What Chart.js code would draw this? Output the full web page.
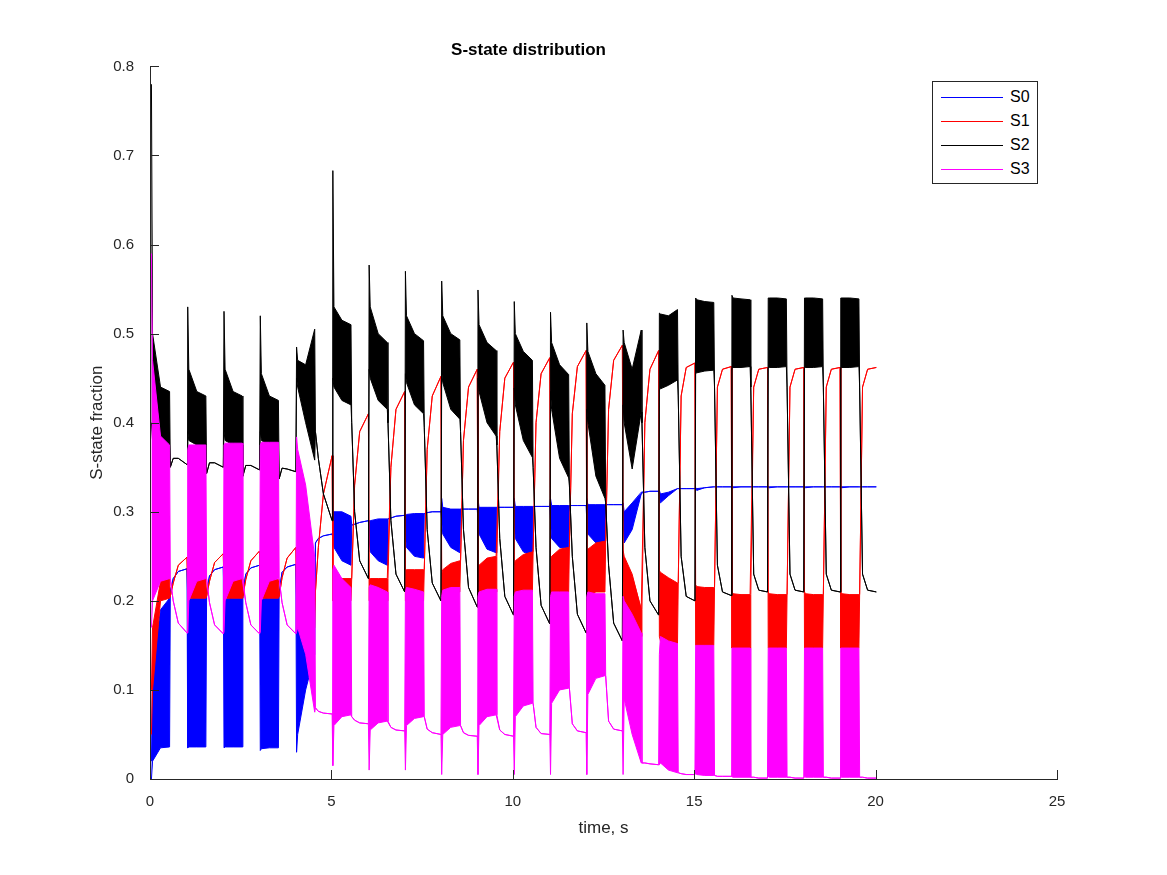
<!DOCTYPE html>
<html>
<head>
<meta charset="utf-8">
<script src="https://cdn.jsdelivr.net/npm/chart.js@4.4.1/dist/chart.umd.min.js"></script>
<style>
  html, body { margin: 0; padding: 0; background: #fff; }
  #wrap { position: relative; width: 1167px; height: 875px; }
  #legend {
    position: absolute; left: 932px; top: 81px; width: 106px; height: 103px;
    border: 1px solid #262626; background: #fff; box-sizing: border-box;
    font: 16px "Liberation Sans", Arial, sans-serif; color: #000;
  }
  #legend .row { position: absolute; left: 8px; height: 20px; line-height: 20px; }
  #legend .row i { display: inline-block; width: 62px; height: 0; border-top: 1px solid; vertical-align: middle; margin-right: 7px; }
</style>
</head>
<body>
<div id="wrap">
  <canvas id="c"></canvas>
  <div id="legend">
    <div class="row" style="top:5px"><i style="border-color:#0000ff"></i>S0</div>
    <div class="row" style="top:29px"><i style="border-color:#ff0000"></i>S1</div>
    <div class="row" style="top:53px"><i style="border-color:#000000"></i>S2</div>
    <div class="row" style="top:77px"><i style="border-color:#ff00ff"></i>S3</div>
  </div>
</div>
<script>
// Flash train: 20 periods of 1 s; each period = oscillating band (light) + relaxation (dark).
// Within a band the trace oscillates too fast to resolve, so it is kept as top/bottom envelopes.
const seriesNames = ["S0", "S1", "S2", "S3"];
const xTicks = [0, 5, 10, 15, 20, 25];
const yTicks = [0, 0.1, 0.2, 0.3, 0.4, 0.5, 0.6, 0.7, 0.8];
const bandOffsets = [0.04, 0.07, 0.29, 0.54];  // seconds into each period
const darkOffsets = [0.56, 0.64, 0.78, 1.02];

// S0 (blue)
const s0Top = [
  [0.02,0.12,0.19,0.203],[0.20,0.202,0.203,0.203],[0.20,0.202,0.203,0.203],[0.20,0.202,0.203,0.203],
  [0.203,0.20,0.195,0.19],[0.30,0.30,0.30,0.295],[0.29,0.29,0.292,0.292],[0.296,0.297,0.298,0.298],
  [0.315,0.305,0.303,0.303],[0.315,0.305,0.305,0.305],[0.315,0.306,0.306,0.306],[0.315,0.307,0.307,0.307],
  [0.315,0.308,0.308,0.308],[0.31,0.30,0.31,0.322],[0.324,0.32,0.322,0.326],[0.327,0.326,0.327,0.328],
  [0.328,0.328,0.328,0.328],[0.328,0.328,0.328,0.328],[0.328,0.328,0.328,0.328],[0.328,0.328,0.328,0.328]
];
const s0Bot = [
  [0.0,0.02,0.035,0.036],[0.035,0.036,0.036,0.036],[0.035,0.036,0.036,0.036],[0.032,0.034,0.035,0.035],
  [0.03,0.05,0.10,0.14],[0.27,0.26,0.245,0.24],[0.27,0.255,0.245,0.24],[0.275,0.26,0.25,0.248],
  [0.29,0.275,0.26,0.254],[0.29,0.275,0.258,0.254],[0.29,0.27,0.255,0.25],[0.29,0.27,0.26,0.259],
  [0.29,0.275,0.265,0.265],[0.29,0.265,0.28,0.32],[0.32,0.31,0.318,0.326],[0.326,0.324,0.327,0.328],
  [0.328,0.327,0.328,0.328],[0.328,0.327,0.328,0.328],[0.328,0.327,0.328,0.328],[0.328,0.327,0.328,0.328]
];
const s0Dark = [
  [0.21,0.225,0.233,0.236],[0.21,0.228,0.235,0.238],[0.21,0.23,0.237,0.24],[0.21,0.232,0.238,0.241],
  [0.265,0.27,0.273,0.275],[0.285,0.286,0.288,0.29],[0.292,0.293,0.295,0.296],[0.298,0.299,0.30,0.30],
  [0.303,0.303,0.303,0.303],[0.305,0.305,0.305,0.305],[0.306,0.306,0.306,0.306],[0.307,0.307,0.307,0.307],
  [0.308,0.308,0.308,0.308],[0.322,0.322,0.323,0.323],[0.326,0.326,0.326,0.326],[0.328,0.328,0.328,0.328],
  [0.328,0.328,0.328,0.328],[0.328,0.328,0.328,0.328],[0.328,0.328,0.328,0.328],[0.328,0.328,0.328,0.328]
];

// S1 (red)
const s1Top = [
  [0.10,0.17,0.222,0.225],[0.22,0.222,0.225,0.225],[0.22,0.222,0.225,0.225],[0.22,0.222,0.224,0.224],
  [0.225,0.222,0.215,0.20],[0.225,0.225,0.225,0.225],[0.225,0.225,0.225,0.225],[0.235,0.235,0.235,0.235],
  [0.23,0.235,0.242,0.245],[0.235,0.24,0.248,0.25],[0.24,0.245,0.252,0.255],[0.245,0.25,0.258,0.26],
  [0.25,0.258,0.265,0.267],[0.257,0.25,0.23,0.19],[0.234,0.232,0.226,0.22],[0.218,0.216,0.215,0.215],
  [0.21,0.208,0.207,0.207],[0.21,0.208,0.207,0.207],[0.21,0.208,0.207,0.207],[0.21,0.208,0.207,0.207]
];
const s1Bot = [
  [0.05,0.10,0.20,0.203],[0.20,0.203,0.203,0.203],[0.20,0.203,0.203,0.203],[0.20,0.203,0.203,0.203],
  [0.20,0.20,0.19,0.17],[0.20,0.20,0.20,0.20],[0.20,0.20,0.20,0.20],[0.20,0.20,0.20,0.20],
  [0.20,0.205,0.21,0.21],[0.20,0.205,0.21,0.21],[0.20,0.205,0.21,0.21],[0.20,0.205,0.21,0.21],
  [0.20,0.205,0.21,0.21],[0.20,0.19,0.17,0.16],[0.16,0.155,0.152,0.152],[0.15,0.15,0.15,0.15],
  [0.147,0.147,0.147,0.147],[0.147,0.147,0.147,0.147],[0.147,0.147,0.147,0.147],[0.147,0.147,0.147,0.147]
];
const s1Dark = [
  [0.205,0.22,0.24,0.249],[0.205,0.222,0.243,0.253],[0.205,0.224,0.245,0.256],[0.205,0.226,0.248,0.26],
  [0.21,0.26,0.32,0.363],[0.225,0.33,0.39,0.41],[0.225,0.35,0.415,0.435],[0.235,0.37,0.43,0.452],
  [0.245,0.38,0.44,0.46],[0.25,0.39,0.45,0.468],[0.255,0.40,0.455,0.473],[0.26,0.41,0.463,0.481],
  [0.267,0.415,0.47,0.487],[0.19,0.40,0.46,0.481],[0.22,0.43,0.462,0.467],[0.215,0.44,0.46,0.463],
  [0.207,0.44,0.46,0.462],[0.207,0.44,0.46,0.462],[0.207,0.44,0.46,0.462],[0.207,0.44,0.46,0.462]
];

// S2 (black)
const s2Top = [
  [0.78,0.50,0.44,0.435],[0.53,0.46,0.435,0.43],[0.525,0.46,0.435,0.43],[0.52,0.455,0.43,0.425],
  [0.485,0.47,0.465,0.505],[0.683,0.53,0.515,0.51],[0.577,0.53,0.50,0.49],[0.57,0.52,0.50,0.492],
  [0.559,0.52,0.50,0.493],[0.549,0.51,0.49,0.481],[0.536,0.50,0.48,0.47],[0.524,0.49,0.465,0.454],
  [0.512,0.48,0.455,0.442],[0.504,0.49,0.46,0.504],[0.523,0.522,0.52,0.527],[0.54,0.538,0.536,0.535],
  [0.543,0.54,0.539,0.538],[0.54,0.54,0.54,0.539],[0.54,0.54,0.54,0.539],[0.54,0.54,0.54,0.539]
];
const s2Bot = [
  [0.40,0.38,0.375,0.375],[0.39,0.38,0.375,0.375],[0.39,0.38,0.375,0.375],[0.39,0.38,0.375,0.375],
  [0.45,0.44,0.40,0.358],[0.45,0.44,0.425,0.42],[0.46,0.45,0.425,0.415],[0.455,0.445,0.42,0.41],
  [0.458,0.445,0.415,0.404],[0.45,0.435,0.40,0.385],[0.439,0.42,0.38,0.361],[0.435,0.415,0.36,0.338],
  [0.415,0.40,0.34,0.315],[0.42,0.40,0.348,0.412],[0.437,0.438,0.442,0.448],[0.455,0.456,0.458,0.459],
  [0.461,0.462,0.462,0.463],[0.461,0.462,0.462,0.463],[0.461,0.462,0.462,0.463],[0.461,0.462,0.462,0.463]
];
const s2Dark = [
  [0.35,0.36,0.36,0.353],[0.343,0.355,0.355,0.35],[0.34,0.352,0.352,0.347],[0.337,0.349,0.348,0.345],
  [0.39,0.36,0.32,0.29],[0.40,0.30,0.245,0.225],[0.40,0.29,0.23,0.21],[0.395,0.28,0.22,0.20],
  [0.39,0.28,0.215,0.193],[0.375,0.27,0.205,0.184],[0.35,0.26,0.195,0.174],[0.33,0.25,0.185,0.164],
  [0.31,0.24,0.175,0.155],[0.40,0.26,0.20,0.184],[0.43,0.25,0.205,0.20],[0.44,0.24,0.21,0.206],
  [0.44,0.23,0.212,0.21],[0.44,0.23,0.212,0.21],[0.44,0.23,0.212,0.21],[0.44,0.23,0.212,0.21]
];

// S3 (magenta)
const s3Top = [
  [0.59,0.47,0.385,0.375],[0.37,0.375,0.375,0.375],[0.375,0.377,0.377,0.377],[0.375,0.378,0.378,0.378],
  [0.384,0.37,0.33,0.249],[0.235,0.24,0.225,0.215],[0.215,0.218,0.215,0.21],[0.21,0.215,0.213,0.21],
  [0.205,0.212,0.215,0.215],[0.205,0.21,0.213,0.213],[0.205,0.21,0.212,0.212],[0.205,0.21,0.21,0.21],
  [0.205,0.21,0.208,0.208],[0.205,0.20,0.185,0.164],[0.14,0.16,0.155,0.152],[0.15,0.15,0.15,0.15],
  [0.147,0.147,0.147,0.147],[0.147,0.147,0.147,0.147],[0.147,0.147,0.147,0.147],[0.147,0.147,0.147,0.147]
];
const s3Bot = [
  [0.17,0.20,0.222,0.225],[0.165,0.20,0.222,0.225],[0.165,0.20,0.222,0.225],[0.165,0.20,0.222,0.225],
  [0.165,0.17,0.14,0.075],[0.015,0.06,0.07,0.072],[0.01,0.055,0.063,0.065],[0.01,0.06,0.068,0.07],
  [0.005,0.05,0.058,0.06],[0.005,0.06,0.07,0.072],[0.005,0.07,0.082,0.085],[0.005,0.085,0.10,0.102],
  [0.005,0.095,0.113,0.116],[0.005,0.09,0.05,0.018],[0.016,0.018,0.01,0.007],[0.006,0.005,0.004,0.004],
  [0.003,0.002,0.002,0.002],[0.003,0.002,0.002,0.002],[0.003,0.002,0.002,0.002],[0.003,0.002,0.002,0.002]
];
const s3Dark = [
  [0.225,0.20,0.175,0.164],[0.225,0.198,0.173,0.163],[0.225,0.198,0.173,0.163],[0.225,0.198,0.173,0.163],
  [0.08,0.076,0.074,0.073],[0.07,0.066,0.063,0.062],[0.065,0.058,0.055,0.054],[0.07,0.056,0.052,0.05],
  [0.06,0.052,0.049,0.048],[0.072,0.055,0.05,0.048],[0.085,0.058,0.051,0.05],[0.102,0.062,0.054,0.052],
  [0.116,0.065,0.056,0.054],[0.018,0.018,0.017,0.016],[0.007,0.006,0.005,0.005],[0.004,0.003,0.003,0.003],
  [0.002,0.002,0.001,0.001],[0.002,0.002,0.001,0.001],[0.002,0.002,0.001,0.001],[0.002,0.002,0.001,0.001]
];

const colors = ["#0000ff", "#ff0000", "#000000", "#ff00ff"];
const tops = [s0Top, s1Top, s2Top, s3Top];
const bots = [s0Bot, s1Bot, s2Bot, s3Bot];
const darks = [s0Dark, s1Dark, s2Dark, s3Dark];

// envelope -> {x,y} points; in the dark part upper and lower coincide
function envelope(band, dark) {
  const pts = [];
  band.forEach((b, k) => {
    bandOffsets.forEach((o, j) => pts.push({ x: k + o, y: b[j] }));
    darkOffsets.forEach((o, j) => pts.push({ x: k + o, y: dark[k][j] }));
  });
  return pts;
}

const datasets = [];
seriesNames.forEach((name, i) => {
  const order = 10 - i * 2;
  datasets.push({
    label: name, data: envelope(tops[i], darks[i]),
    borderColor: colors[i], borderWidth: 1, pointRadius: 0, fill: false, order
  });
  datasets.push({
    label: name + " low", data: envelope(bots[i], darks[i]),
    borderColor: colors[i], backgroundColor: colors[i], borderWidth: 1, pointRadius: 0,
    fill: "-1", order
  });
});

// MATLAB-style inward ticks
const inwardTicks = {
  id: "inward-ticks",
  afterDraw(chart) {
    const { ctx, chartArea: a, scales: { x, y } } = chart;
    ctx.save();
    ctx.strokeStyle = "#262626";
    ctx.lineWidth = 1;
    ctx.beginPath();
    xTicks.forEach(v => {
      const px = Math.round(x.getPixelForValue(v)) + 0.5;
      ctx.moveTo(px, a.bottom); ctx.lineTo(px, a.bottom - 9);
    });
    yTicks.forEach(v => {
      const py = Math.round(y.getPixelForValue(v)) + 0.5;
      ctx.moveTo(a.left, py); ctx.lineTo(a.left + 9, py);
    });
    ctx.stroke();
    ctx.restore();
  }
};

const font = "'Liberation Sans', Arial, Helvetica, sans-serif";

new Chart(document.getElementById("c"), {
  type: "line",
  data: { datasets },
  options: {
    responsive: true,
    maintainAspectRatio: false,
    animation: false,
    layout: { padding: { top: 0, right: 110, left: 0, bottom: 0 } },
    scales: {
      x: {
        type: "linear", min: 0, max: 25,
        afterBuildTicks: s => { s.ticks = xTicks.map(v => ({ value: v })); },
        afterFit: s => { s.height = 96; },
        grid: { display: false },
        border: { display: true, color: "#262626", width: 1 },
        ticks: { color: "#262626", font: { family: font, size: 15 }, padding: 6, maxRotation: 0 },
        title: { display: true, text: "time, s", color: "#262626", font: { family: font, size: 17 }, padding: { top: 0, bottom: 36 } }
      },
      y: {
        type: "linear", min: 0, max: 0.8,
        afterBuildTicks: s => { s.ticks = yTicks.map(v => ({ value: v })); },
        afterFit: s => { s.width = 150; },
        grid: { display: false },
        border: { display: true, color: "#262626", width: 1 },
        ticks: { color: "#262626", font: { family: font, size: 15 }, padding: 8, callback: v => String(+v.toFixed(1)) },
        title: { display: true, text: "S-state fraction", color: "#262626", font: { family: font, size: 17 }, padding: { top: 87, bottom: 0 } }
      }
    },
    plugins: {
      legend: { display: false },
      tooltip: { enabled: false },
      title: {
        display: true, text: "S-state distribution", color: "#000",
        font: { family: font, size: 17, weight: "bold" }, padding: { top: 40, bottom: 6 }
      }
    }
  },
  plugins: [inwardTicks]
});
</script>
</body>
</html>
